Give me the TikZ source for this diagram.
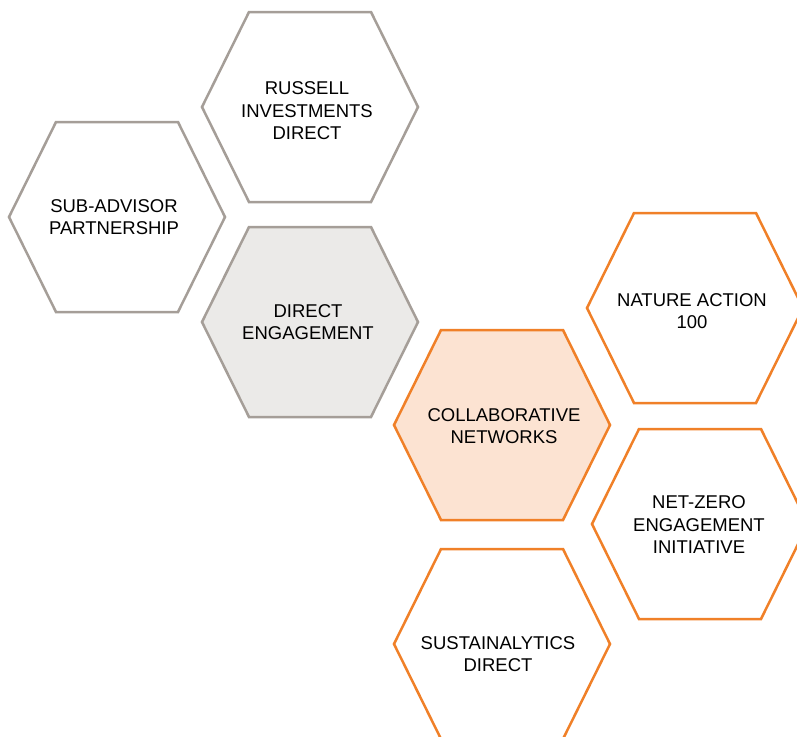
\documentclass[tikz,border=0pt]{standalone}
\usepackage{fontspec}
\setmainfont{Liberation Sans}
\definecolor{hgray}{RGB}{165,158,152}
\definecolor{hgfill}{RGB}{235,234,232}
\definecolor{horange}{RGB}{240,128,40}
\definecolor{hofill}{RGB}{252,227,210}
\tikzset{
  hexg/.style={draw=hgray,line width=2.5pt},
  hexo/.style={draw=horange,line width=2.5pt},
  lbl/.style={align=center,font=\fontsize{18.5}{22.5}\selectfont,text=black,inner sep=0pt},
  hexshape/.pic={\path[pic actions] (-108,0) -- (-61,-95) -- (61,-95) -- (108,0) -- (61,95) -- (-61,95) -- cycle;}
}
\begin{document}
\begin{tikzpicture}[x=1pt,y=-1pt]
\useasboundingbox (0,0) rectangle (797,736);
\clip (0,0) rectangle (797,736);
\pic[hexg] at (310,107) {hexshape};
\pic[hexg] at (117,217) {hexshape};
\pic[hexg,fill=hgfill] at (310,322) {hexshape};
\pic[hexo,fill=hofill] at (502,425) {hexshape};
\pic[hexo] at (695,308) {hexshape};
\pic[hexo] at (700,524) {hexshape};
\pic[hexo] at (502,644) {hexshape};
\node[lbl] (ru) at (307,111) {RUSSELL\\INVESTMENTS\\DIRECT};
\node[lbl] (sa) at (114,217) {SUB-ADVISOR\\PARTNERSHIP};
\node[lbl] (de) at (308,322) {DIRECT\\ENGAGEMENT};
\node[lbl] (cn) at (504,426) {COLLABORATIVE\\NETWORKS};
\node[lbl] (na) at (692,311) {NATURE ACTION\\100};
\node[lbl] (nz) at (699,525) {NET-ZERO\\ENGAGEMENT\\INITIATIVE};
\node[lbl] (sd) at (498,654) {SUSTAINALYTICS\\DIRECT};
\end{tikzpicture}
\end{document}
